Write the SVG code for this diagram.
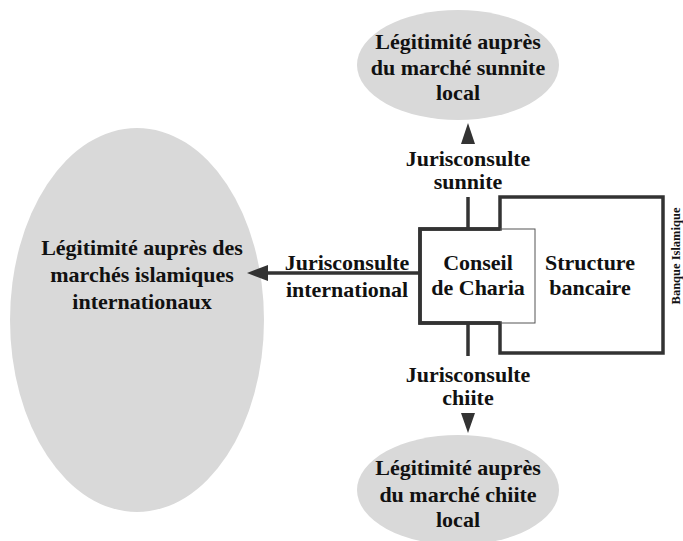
<svg xmlns="http://www.w3.org/2000/svg" width="683" height="541" viewBox="0 0 683 541">
<style>
.ell{fill:#d9d9d9;stroke:none}
.t{font-family:"Liberation Serif","Times New Roman",serif;font-weight:bold;font-size:22px;fill:#111;text-anchor:middle}
.c{stroke:#333;stroke-width:3.5;fill:none}
.ah{fill:#333}
</style>
<rect width="683" height="541" fill="#fff"/>
<g id="legit-sunnite">
<ellipse class="ell" cx="458" cy="65" rx="101" ry="55"/>
<text class="t" x="458" y="49">Légitimité auprès</text>
<text class="t" x="458" y="75">du marché sunnite</text>
<text class="t" x="458" y="100">local</text>
</g>
<g id="legit-intl">
<ellipse class="ell" cx="137" cy="320" rx="127" ry="192"/>
<text class="t" x="142" y="255">Légitimité auprès des</text>
<text class="t" x="142" y="282">marchés islamiques</text>
<text class="t" x="142" y="309">internationaux</text>
</g>
<g id="legit-chiite">
<ellipse class="ell" cx="458" cy="490" rx="101" ry="55"/>
<text class="t" x="458" y="475">Légitimité auprès</text>
<text class="t" x="458" y="502">du marché chiite</text>
<text class="t" x="458" y="527">local</text>
</g>
<g id="banque">
<path d="M420 229 H500 V197 H663 V353 H500 V323 H420 Z" class="c"/>
<text class="t" x="590" y="270">Structure</text>
<text class="t" x="590" y="295">bancaire</text>
<text class="t" style="font-size:12.5px" transform="translate(680,256) rotate(-90)">Banque Islamique</text>
</g>
<g id="conseil">
<rect x="420" y="229" width="115" height="94" fill="none" stroke="#555" stroke-width="1"/>
<path d="M500 229 H420 V323 H500" class="c"/>
<text class="t" x="478" y="270">Conseil</text>
<text class="t" x="478" y="295">de Charia</text>
</g>
<g id="connectors">
<line class="c" x1="468" y1="229" x2="468" y2="197"/>
<polygon class="ah" points="468,123 475,144 461,144"/>
<text class="t" x="468" y="166">Jurisconsulte</text>
<text class="t" x="468" y="189">sunnite</text>
<line class="c" x1="468" y1="323" x2="468" y2="356"/>
<polygon class="ah" points="468,433 475,413 461,413"/>
<text class="t" x="468" y="382">Jurisconsulte</text>
<text class="t" x="468" y="405">chiite</text>
<line class="c" x1="420" y1="273" x2="266" y2="273"/>
<polygon class="ah" points="247,273 268,265 268,281"/>
<text class="t" x="347" y="270">Jurisconsulte</text>
<text class="t" x="347" y="297">international</text>
</g>
</svg>
